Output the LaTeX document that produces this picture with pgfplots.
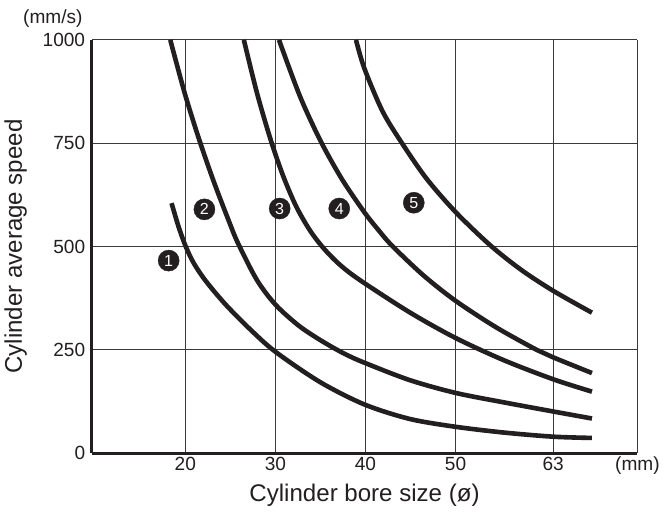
\documentclass[border=0pt]{standalone}
\usepackage{fontspec}
\setmainfont{Liberation Sans}
\usepackage{pgfplots}
\pgfplotsset{compat=1.18}
\definecolor{ink}{HTML}{231F20}
\definecolor{gridc}{HTML}{3A3A3A}

\begin{document}
\begin{tikzpicture}
% x positions: 20->1, 30->2, 40->3, 50->4, 63->5.084 (as spaced on the chart)
\begin{axis}[
  name=ax,
  scale only axis, width=544pt, height=412pt,
  xmin=-0.04, xmax=6.02, ymin=0, ymax=1000,
  axis x line*=bottom, axis y line*=left,
  axis line style={-, line width=2.6pt, color=ink},
  xtick={1,2,3,4,5.084,6.02}, xticklabels={20,30,40,50,63,(mm)},
  ytick={0,250,500,750,1000},
  major tick length=0pt,
  grid=major, major grid style={line width=0.9pt, color=gridc},
  /pgf/number format/assume math mode=true,
  /pgf/number format/1000 sep={},
  tick label style={font=\fontsize{19}{22}\selectfont, text=ink},
  yticklabel style={xshift=-3pt},
  label style={font=\fontsize{24}{28}\selectfont, text=ink},
  xlabel={Cylinder bore size (ø)}, xlabel shift=3pt,
  ylabel={Cylinder average speed}, ylabel shift=9pt,
]
% curve 1
\addplot[ink, line width=4.6pt, smooth, no markers] coordinates {
  (0.847,605) (0.925,548) (1.003,501) (1.093,460) (1.226,417)
  (1.446,360) (1.728,298) (2.003,245) (2.497,172) (2.988,118)
  (3.490,83) (3.999,64) (4.537,50) (5.084,40) (5.515,37)};
% curve 2
\addplot[ink, line width=4.6pt, smooth, no markers] coordinates {
  (0.833,1000) (0.992,872) (1.149,762) (1.316,657) (1.483,562)
  (1.583,509) (1.795,419) (2.003,359) (2.263,308) (2.519,271)
  (2.764,241) (2.988,219) (3.490,177) (3.999,146) (4.537,123)
  (5.084,101) (5.515,84)};
% curve 3
\addplot[ink, line width=4.6pt, smooth, no markers] coordinates {
  (1.650,1000) (1.795,872) (1.948,758) (2.086,671) (2.231,597)
  (2.387,538) (2.543,494) (2.721,455) (2.944,418) (3.490,341)
  (3.999,279) (4.537,225) (5.084,179) (5.515,149)};
% curve 4
\addplot[ink, line width=4.6pt, smooth, no markers] coordinates {
  (2.040,1000) (2.274,863) (2.505,754) (2.742,662) (2.988,583)
  (3.144,540) (3.300,501) (3.645,430) (3.999,369) (4.448,305)
  (4.902,250) (5.084,232) (5.515,194)};
% curve 5
\addplot[ink, line width=4.6pt, smooth, no markers] coordinates {
  (2.895,1000) (2.988,931) (3.188,828) (3.400,752) (3.676,665)
  (3.999,584) (4.381,504) (4.727,444) (5.084,393) (5.515,340)};
% circled curve numbers
\addplot[only marks, mark=*, mark size=10.5pt, color=ink,
  point meta=explicit symbolic, nodes near coords, nodes near coords align=center,
  every node near coord/.append style={text=white, font=\fontsize{16}{16}\selectfont}]
  coordinates {(0.815,466)[1] (1.212,590)[2] (2.048,592)[3] (2.709,592)[4] (3.537,606)[5]};
\end{axis}
\node[anchor=base east, font=\fontsize{19}{22}\selectfont, text=ink, inner sep=0pt]
  at ([xshift=-9pt, yshift=16pt]ax.north west) {(mm/s)};
% white margin as in the reference
\path (current bounding box.south west) ++(-1pt,-10pt) coordinate (pad1);
\path (current bounding box.north east) ++(4pt,10pt) coordinate (pad2);
\path (pad1) rectangle (pad2);
\end{tikzpicture}
\end{document}
